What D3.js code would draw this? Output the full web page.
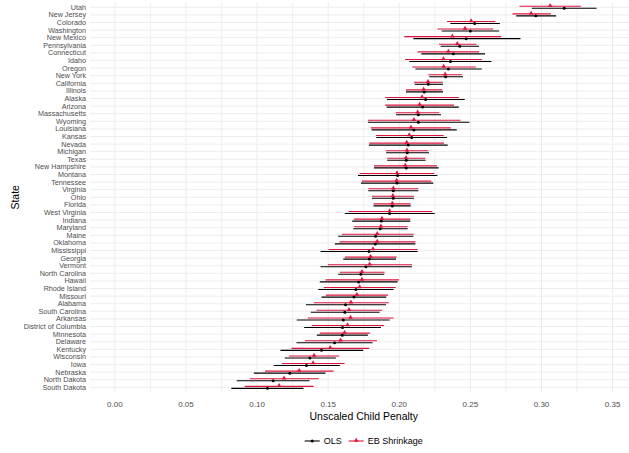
<!DOCTYPE html>
<html>
<head>
<meta charset="utf-8">
<script src="https://cdn.jsdelivr.net/npm/d3@7"></script>
<style>
  html, body { margin: 0; padding: 0; background: #fff; }
  svg { display: block; font-family: "Liberation Sans", Arial, Helvetica, sans-serif; }
</style>
</head>
<body>
<svg id="chart" width="629" height="453"></svg>
<script>
// States, ordered by OLS estimate (top to bottom)
const states = [
  "Utah", "New Jersey", "Colorado", "Washington", "New Mexico", "Pennsylvania",
  "Connecticut", "Idaho", "Oregon", "New York", "California", "Illinois", "Alaska",
  "Arizona", "Massachusetts", "Wyoming", "Louisiana", "Kansas", "Nevada", "Michigan",
  "Texas", "New Hampshire", "Montana", "Tennessee", "Virginia", "Ohio", "Florida",
  "West Virginia", "Indiana", "Maryland", "Maine", "Oklahoma", "Mississippi",
  "Georgia", "Vermont", "North Carolina", "Hawaii", "Rhode Island", "Missouri",
  "Alabama", "South Carolina", "Arkansas", "District of Columbia", "Minnesota",
  "Delaware", "Kentucky", "Wisconsin", "Iowa", "Nebraska", "North Dakota", "South Dakota"
];

// OLS estimates with 95% interval
const olsEst = [0.316, 0.296, 0.253, 0.250, 0.247, 0.2425, 0.238, 0.236, 0.2345, 0.2326,
  0.2204, 0.2176, 0.2185, 0.2164, 0.2134, 0.2134, 0.2103, 0.2087, 0.2063, 0.2056,
  0.2049, 0.2049, 0.1988, 0.1984, 0.1958, 0.1958, 0.1951, 0.1932, 0.1873, 0.1866,
  0.1833, 0.1831, 0.1787, 0.1789, 0.1765, 0.1730, 0.1714, 0.1695, 0.1681, 0.1622,
  0.1617, 0.1606, 0.1601, 0.1599, 0.1545, 0.1453, 0.1371, 0.1347, 0.1230, 0.1113, 0.1073];
const olsLo = [0.2932, 0.2822, 0.2359, 0.2298, 0.2099, 0.2291, 0.2155, 0.2070, 0.2113, 0.2211,
  0.2108, 0.2047, 0.1913, 0.1911, 0.1977, 0.1779, 0.1805, 0.1838, 0.1786, 0.1908,
  0.1915, 0.1822, 0.1709, 0.1730, 0.1782, 0.1808, 0.1819, 0.1617, 0.1669, 0.1676,
  0.1570, 0.1547, 0.1446, 0.1606, 0.1446, 0.1570, 0.1441, 0.1430, 0.1453, 0.1343,
  0.1378, 0.1279, 0.1331, 0.1420, 0.1277, 0.1164, 0.1195, 0.1117, 0.0977, 0.0857, 0.0819];
const olsHi = [0.3387, 0.3103, 0.2707, 0.2702, 0.2852, 0.2561, 0.2603, 0.2648, 0.2580, 0.2448,
  0.2307, 0.2307, 0.2460, 0.2418, 0.2293, 0.2493, 0.2404, 0.2336, 0.2340, 0.2209,
  0.2185, 0.2277, 0.2268, 0.2239, 0.2134, 0.2103, 0.2080, 0.2249, 0.2077, 0.2059,
  0.2099, 0.2113, 0.2129, 0.1977, 0.2089, 0.1894, 0.1988, 0.1960, 0.1908, 0.1906,
  0.1861, 0.1932, 0.1871, 0.1779, 0.1812, 0.1746, 0.1554, 0.1582, 0.1481, 0.1369, 0.1326];

// Empirical Bayes shrinkage estimates with 95% interval
const ebEst = [0.3061, 0.2927, 0.2505, 0.2462, 0.2373, 0.2408, 0.2345, 0.2310, 0.2312, 0.2322,
  0.2202, 0.2171, 0.2160, 0.2143, 0.2129, 0.2103, 0.2082, 0.2070, 0.2052, 0.2054,
  0.2047, 0.2042, 0.1984, 0.1981, 0.1958, 0.1955, 0.1951, 0.1932, 0.1878, 0.1871,
  0.1845, 0.1845, 0.1815, 0.1798, 0.1791, 0.1737, 0.1737, 0.1721, 0.1702, 0.1660,
  0.1646, 0.1657, 0.1636, 0.1615, 0.1587, 0.1514, 0.1401, 0.1394, 0.1296, 0.1190, 0.1155];
const ebLo = [0.2845, 0.2796, 0.2336, 0.2268, 0.2035, 0.2279, 0.2129, 0.2040, 0.2092, 0.2204,
  0.2103, 0.2047, 0.1901, 0.1901, 0.1974, 0.1779, 0.1800, 0.1836, 0.1789, 0.1906,
  0.1915, 0.1822, 0.1721, 0.1737, 0.1782, 0.1808, 0.1819, 0.1643, 0.1681, 0.1683,
  0.1596, 0.1580, 0.1502, 0.1617, 0.1498, 0.1582, 0.1481, 0.1469, 0.1484, 0.1399,
  0.1418, 0.1357, 0.1385, 0.1441, 0.1336, 0.1242, 0.1225, 0.1174, 0.1056, 0.0948, 0.0913];
const ebHi = [0.3277, 0.3066, 0.2676, 0.2660, 0.2716, 0.2542, 0.2561, 0.2582, 0.2538, 0.2439,
  0.2305, 0.2303, 0.2420, 0.2385, 0.2282, 0.2430, 0.2362, 0.2312, 0.2315, 0.2204,
  0.2183, 0.2265, 0.2246, 0.2225, 0.2134, 0.2103, 0.2080, 0.2232, 0.2077, 0.2059,
  0.2101, 0.2113, 0.2129, 0.1981, 0.2089, 0.1897, 0.1998, 0.1974, 0.1920, 0.1925,
  0.1878, 0.1960, 0.1892, 0.1793, 0.1843, 0.1789, 0.1577, 0.1615, 0.1538, 0.1434, 0.1397];

const xTicks = [0, 0.05, 0.10, 0.15, 0.20, 0.25, 0.30, 0.35];
const xLimits = [0, 0.35];
const seriesNames = ["OLS", "EB Shrinkage"];
const seriesColors = ["#000000", "#DC143C"];

const svg = d3.select("#chart");
const panel = { left: 90, right: 637.5, top: 2.7, bottom: 391.9 };

// continuous x with 5% expansion on each side
const span = xLimits[1] - xLimits[0];
const x = d3.scaleLinear()
  .domain([xLimits[0] - 0.05 * span, xLimits[1] + 0.05 * span])
  .range([panel.left, panel.right]);

// discrete y with 0.6-step padding at the ends
const y = d3.scalePoint()
  .domain(states)
  .range([panel.top, panel.bottom])
  .padding(0.6);

const dodge = 1.0;

// grid
const grid = svg.append("g");
const minorTicks = d3.range(0, 7).map(i => 0.025 + i * 0.05);
grid.selectAll("line.minor").data(minorTicks).join("line")
  .attr("x1", d => x(d)).attr("x2", d => x(d))
  .attr("y1", panel.top).attr("y2", panel.bottom)
  .attr("stroke", "#EBEBEB").attr("stroke-width", 0.8);
grid.selectAll("line.majx").data(xTicks).join("line")
  .attr("x1", d => x(d)).attr("x2", d => x(d))
  .attr("y1", panel.top).attr("y2", panel.bottom)
  .attr("stroke", "#EBEBEB").attr("stroke-width", 1);
grid.selectAll("line.majy").data(states).join("line")
  .attr("x1", panel.left).attr("x2", panel.right)
  .attr("y1", d => y(d)).attr("y2", d => y(d))
  .attr("stroke", "#EBEBEB").attr("stroke-width", 0.9);

// assemble rows for each series
const rows = states.map((s, i) => ({
  state: s,
  ols: { est: olsEst[i], lo: olsLo[i], hi: olsHi[i] },
  eb: { est: ebEst[i], lo: ebLo[i], hi: ebHi[i] }
}));

// OLS intervals and points (drawn first, slightly below row centre)
const gOls = svg.append("g");
gOls.selectAll("line").data(rows).join("line")
  .attr("x1", d => x(d.ols.lo)).attr("x2", d => x(d.ols.hi))
  .attr("y1", d => y(d.state) + dodge).attr("y2", d => y(d.state) + dodge)
  .attr("stroke", seriesColors[0]).attr("stroke-width", 1.1);
gOls.selectAll("circle").data(rows).join("circle")
  .attr("cx", d => x(d.ols.est)).attr("cy", d => y(d.state) + dodge)
  .attr("r", 1.5).attr("fill", seriesColors[0]);

// EB intervals and points (slightly above row centre)
const tri = d3.symbol().type(d3.symbolTriangle).size(9);
const gEb = svg.append("g");
gEb.selectAll("line").data(rows).join("line")
  .attr("x1", d => x(d.eb.lo)).attr("x2", d => x(d.eb.hi))
  .attr("y1", d => y(d.state) - dodge).attr("y2", d => y(d.state) - dodge)
  .attr("stroke", seriesColors[1]).attr("stroke-width", 1.1);
gEb.selectAll("path").data(rows).join("path")
  .attr("d", tri)
  .attr("transform", d => `translate(${x(d.eb.est)},${y(d.state) - dodge - 0.6})`)
  .attr("fill", seriesColors[1]);

// y axis labels
svg.append("g").selectAll("text").data(states).join("text")
  .attr("x", 86).attr("y", d => y(d))
  .attr("dy", "0.35em")
  .attr("text-anchor", "end")
  .attr("font-size", 7.2)
  .attr("fill", "#4D4D4D")
  .text(d => d);

// x axis tick labels
svg.append("g").selectAll("text").data(xTicks).join("text")
  .attr("x", d => x(d)).attr("y", 406.5)
  .attr("text-anchor", "middle")
  .attr("font-size", 8)
  .attr("fill", "#4D4D4D")
  .text(d => d3.format(".2f")(d));

const cx = (panel.left + panel.right) / 2;

// axis titles
svg.append("text")
  .attr("x", cx).attr("y", 420)
  .attr("text-anchor", "middle")
  .attr("font-size", 10.5)
  .attr("fill", "#000")
  .text("Unscaled Child Penalty");

svg.append("text")
  .attr("transform", `translate(18.5,${(panel.top + panel.bottom) / 2}) rotate(-90)`)
  .attr("text-anchor", "middle")
  .attr("font-size", 10.5)
  .attr("fill", "#000")
  .text("State");

// legend, centred under the panel
const legend = svg.append("g");
const keyW = 15, keyGap = 4, itemGap = 7, ly = 441;
const items = seriesNames.map((name, i) => {
  const g = legend.append("g");
  const t = g.append("text")
    .attr("x", keyW + keyGap).attr("y", ly).attr("dy", "0.35em")
    .attr("font-size", 9).attr("fill", "#000").text(name);
  return { g, i, w: keyW + keyGap + t.node().getComputedTextLength() };
});
const total = d3.sum(items, d => d.w) + itemGap * (items.length - 1);
let lx = cx - total / 2;
items.forEach(it => {
  it.g.attr("transform", `translate(${lx},0)`);
  it.g.append("line")
    .attr("x1", 0).attr("x2", keyW).attr("y1", ly).attr("y2", ly)
    .attr("stroke", seriesColors[it.i]).attr("stroke-width", 1.1);
  if (it.i === 0) {
    it.g.append("circle").attr("cx", keyW / 2).attr("cy", ly).attr("r", 1.5)
      .attr("fill", seriesColors[0]);
  } else {
    it.g.append("path").attr("d", tri)
      .attr("transform", `translate(${keyW / 2},${ly - 0.6})`)
      .attr("fill", seriesColors[1]);
  }
  lx += it.w + itemGap;
});
</script>
</body>
</html>
